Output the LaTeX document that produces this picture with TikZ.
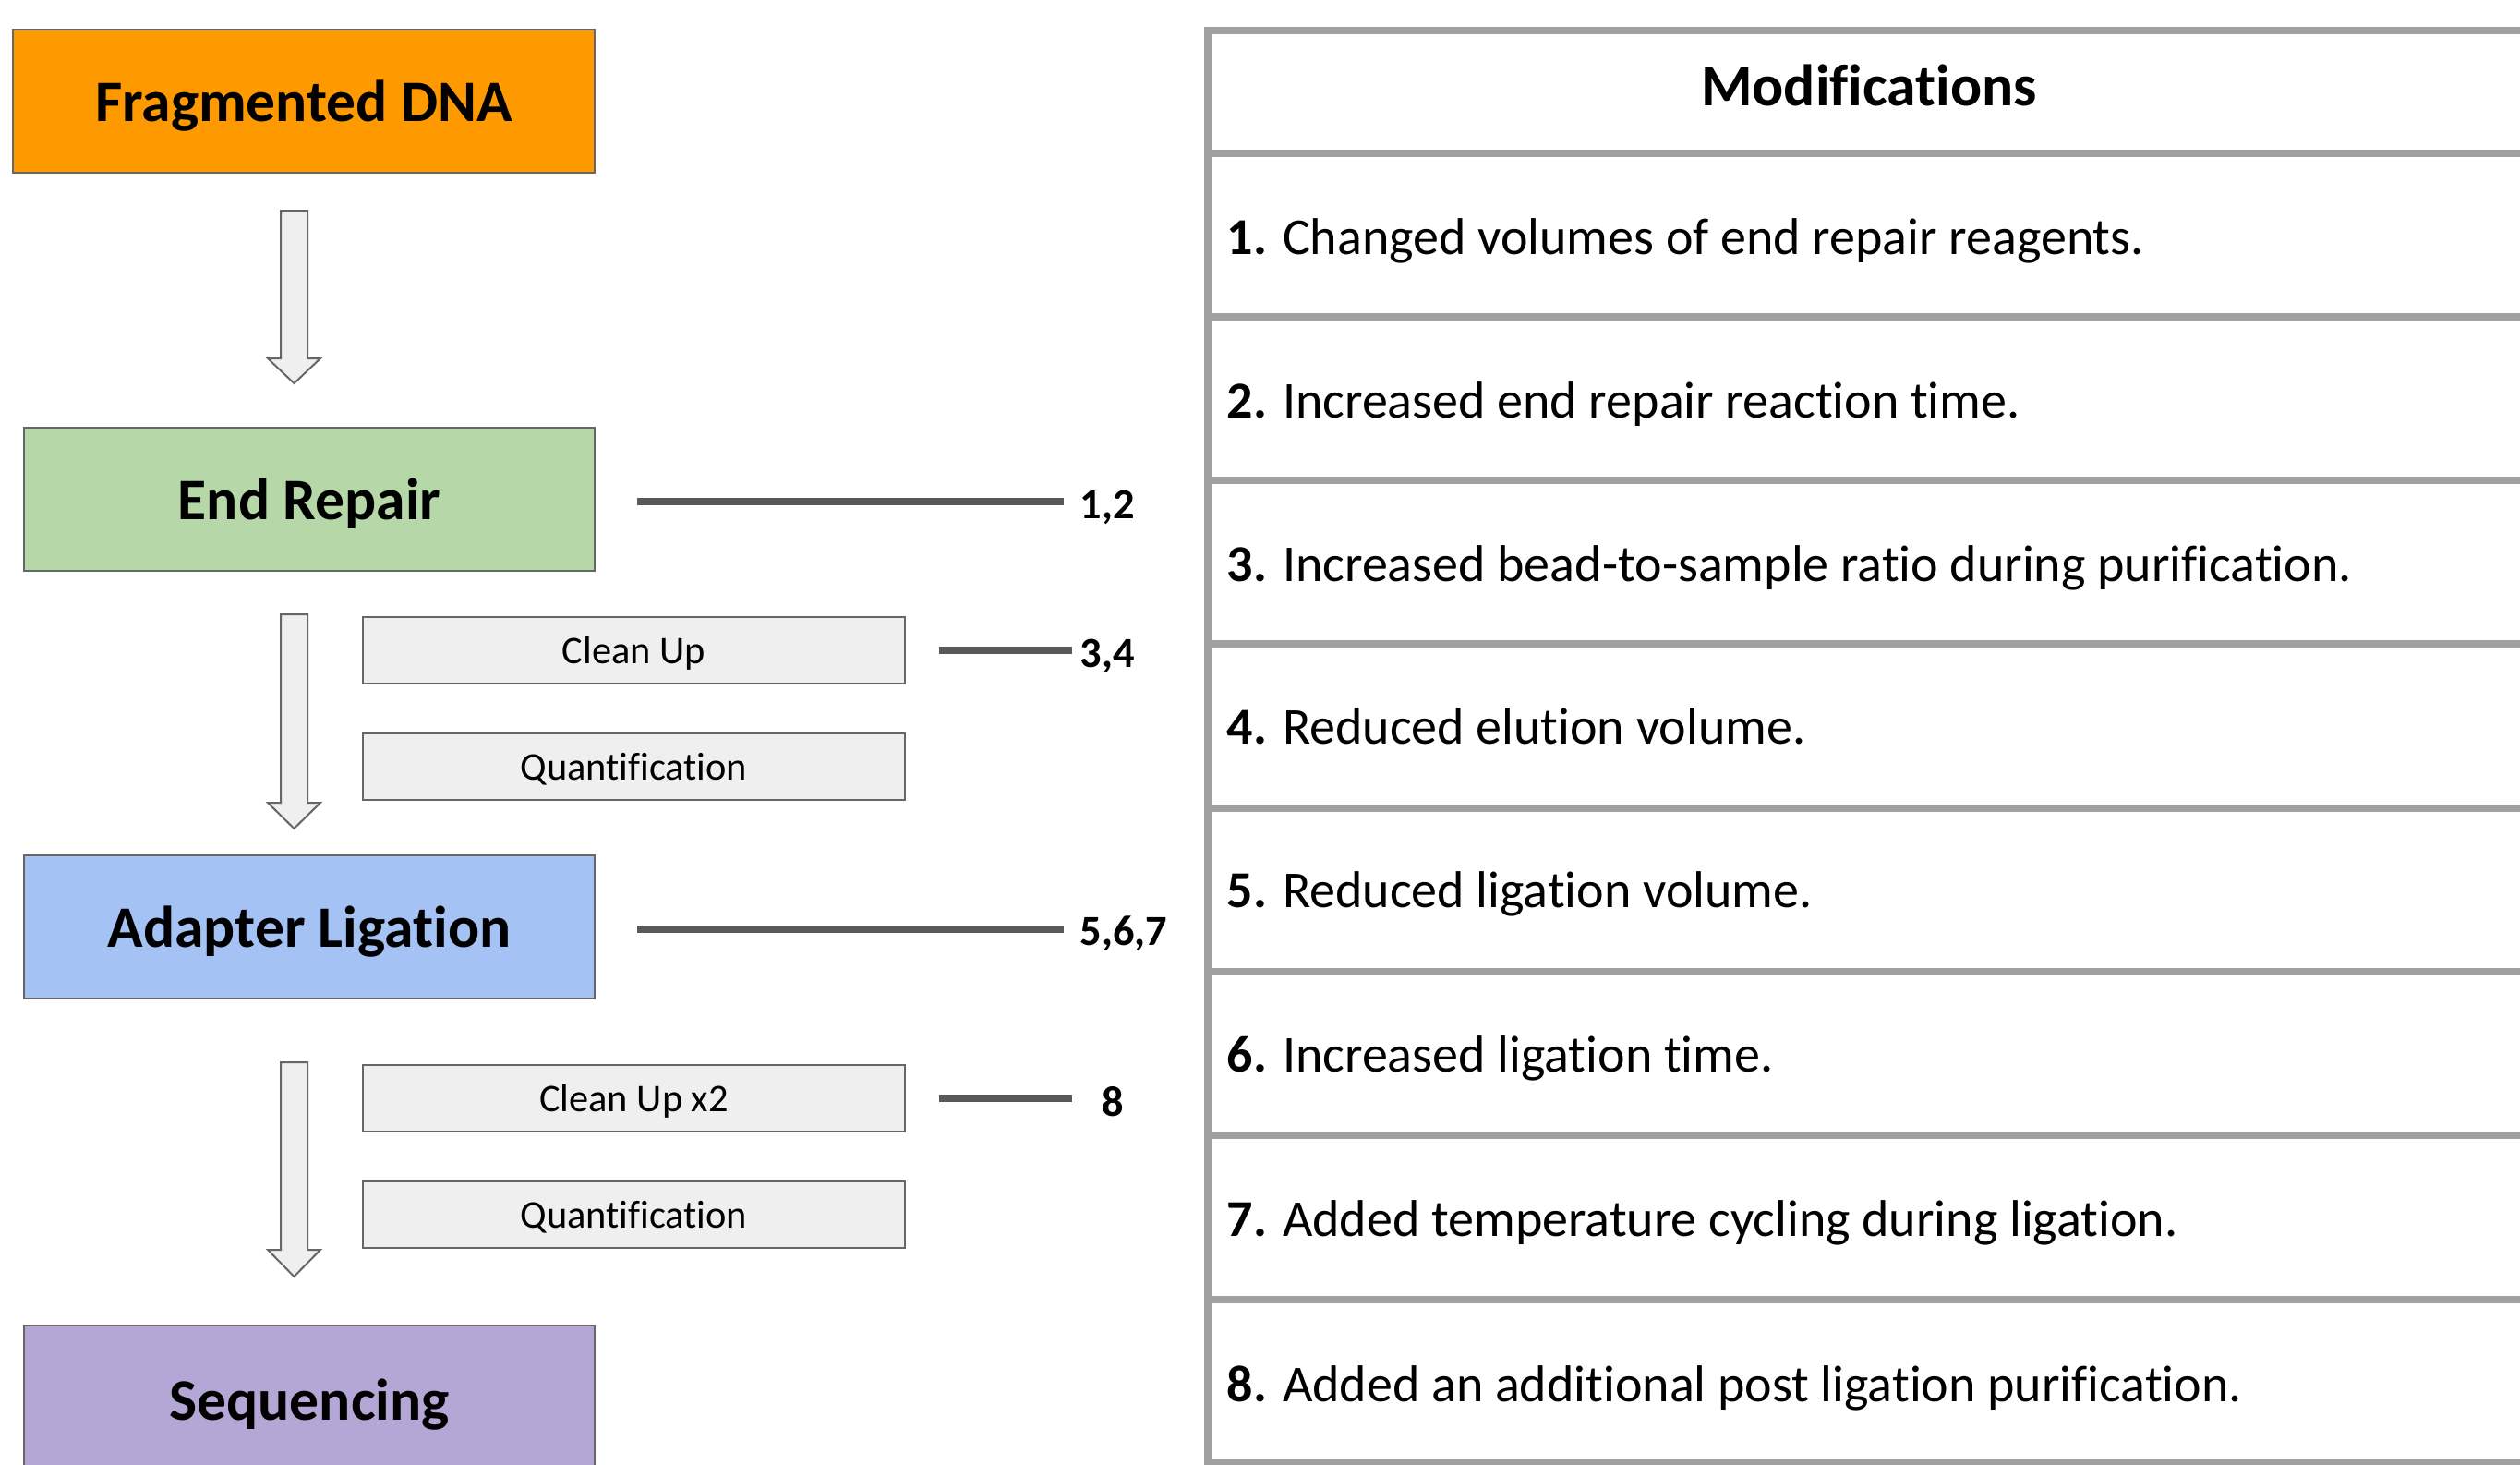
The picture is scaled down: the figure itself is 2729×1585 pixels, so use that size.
\documentclass[tikz,border=0pt]{standalone}
\usepackage{fontspec}
\setmainfont{Carlito}[Ligatures={NoCommon}]
\definecolor{orangeC}{HTML}{FF9900}
\definecolor{greenC}{HTML}{B6D7A8}
\definecolor{blueC}{HTML}{A4C2F4}
\definecolor{purpleC}{HTML}{B4A7D6}
\definecolor{boxgray}{HTML}{EFEFEF}
\definecolor{edgec}{HTML}{666666}
\definecolor{connc}{HTML}{595959}
\definecolor{tablegray}{HTML}{A0A0A0}
\newcommand{\blockarr}[3]{\filldraw[blockarrow] (304,#1) -- (333,#1) -- (333,#2) -- (347,#2) -- (318.5,#3) -- (290,#2) -- (304,#2) -- cycle;}
\begin{document}
\begin{tikzpicture}[x=0.25pt,y=-0.25pt,
 stage/.style={draw=edgec, line width=0.5pt, minimum width=154.5pt, minimum height=38.75pt, inner sep=0pt, text depth=0pt, font=\fontsize{15.9}{19}\selectfont\bfseries},
 substep/.style={draw=edgec, line width=0.5pt, fill=boxgray, minimum width=146.75pt, minimum height=18pt, inner sep=0pt, text depth=0pt, font=\fontsize{10.6}{12}\selectfont},
 conn/.style={draw=connc, line width=2pt},
 numlab/.style={inner sep=0pt, anchor=west, text depth=0pt, font=\fontsize{11.6}{13}\selectfont\bfseries},
 item/.style={inner sep=0pt, anchor=west, text depth=0pt, font=\fontsize{14}{16}\selectfont},
 tline/.style={draw=tablegray, line width=2pt},
 blockarrow/.style={draw=edgec, line width=0.5pt, fill=boxgray}]
\clip (0,0) rectangle (2729,1585);
\fill[white] (0,0) rectangle (2729,1585);

% stages
\node[stage, fill=orangeC, minimum width=157.5pt] (frag) at (329,109.5) {Fragmented DNA};
\node[stage, fill=greenC] (er) at (335,540) {End Repair};
\node[stage, fill=blueC] (al) at (335,1003.5) {Adapter Ligation};
\node[stage, fill=purpleC, minimum height=40pt] (seq) at (335,1515) {Sequencing};

% sub steps
\node[substep] (cu1) at (686.5,704) {Clean Up};
\node[substep] (q1) at (686.5,830) {Quantification};
\node[substep] (cu2) at (686.5,1189) {Clean Up x2};
\node[substep] (q2) at (686.5,1314.5) {Quantification};

% block arrows
\blockarr{228}{388}{415}
\blockarr{665}{869}{897}
\blockarr{1150}{1353}{1382}

% labels
\node[numlab] (l12) at (1169,546) {1,2};
\node[numlab] (l34) at (1169,707) {3,4};
\node[numlab] (l567) at (1169,1008) {5,6,7};
\node[numlab] (l8) at (1193,1192) {8};

% connectors
\draw[conn] ([xshift=11.25pt]er.east|-0,542.5) -- ([xshift=-4.25pt]l12.west|-0,542.5);
\draw[conn] ([xshift=9pt]cu1.east|-0,704) -- ([xshift=-2pt]l34.west|-0,704);
\draw[conn] ([xshift=11.25pt]al.east|-0,1006) -- ([xshift=-4.25pt]l567.west|-0,1006);
\draw[conn] ([xshift=9pt]cu2.east|-0,1189) -- ([xshift=-8pt]l8.west|-0,1189);

% table
\draw[tline] (1308,29) -- (1308,1600);
\draw[tline] (1304,33) -- (2740,33);
\foreach \k in {0,...,8} {
  \draw[tline] (1304,165.5+177.3*\k) -- (2740,165.5+177.3*\k);
}
\node[font=\fontsize{15.9}{19}\selectfont\bfseries, text depth=0pt] (mod) at (2024,92) {Modifications};
\node[item] (m1) at (1328,256) {\textbf{1.} Changed volumes of end repair reagents.};
\node[item] (m2) at (1328,433) {\textbf{2.} Increased end repair reaction time.};
\node[item] (m3) at (1328,610) {\textbf{3.} Increased bead-to-sample ratio during purification.};
\node[item] (m4) at (1328,786) {\textbf{4.} Reduced elution volume.};
\node[item] (m5) at (1328,963) {\textbf{5.} Reduced ligation volume.};
\node[item] (m6) at (1328,1141) {\textbf{6.} Increased ligation time.};
\node[item] (m7) at (1328,1319) {\textbf{7.} Added temperature cycling during ligation.};
\node[item] (m8) at (1328,1498) {\textbf{8.} Added an additional post ligation purification.};
\end{tikzpicture}
\end{document}
